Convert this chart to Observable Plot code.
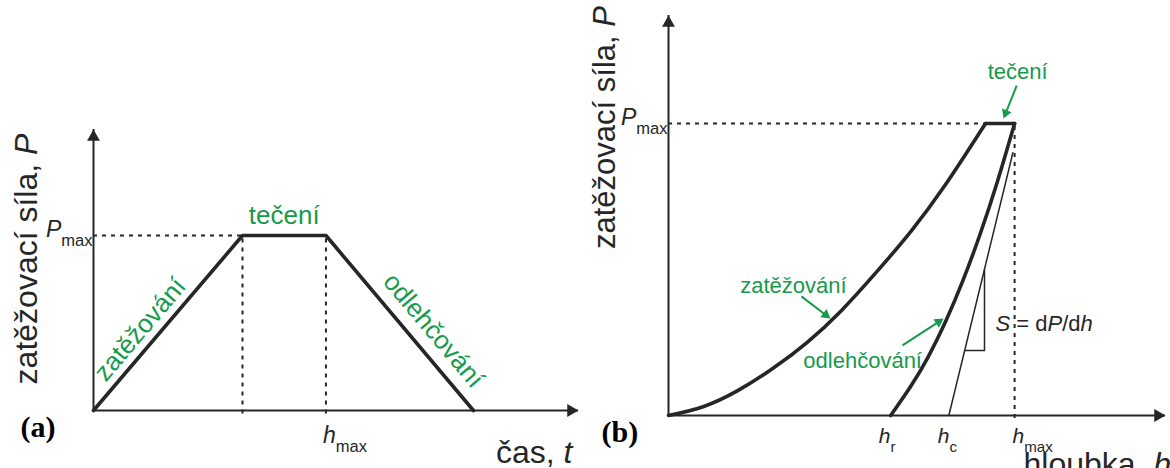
<!DOCTYPE html>
<html>
<head>
<meta charset="utf-8">
<script src="https://cdn.jsdelivr.net/npm/d3@7"></script>
<script src="https://cdn.jsdelivr.net/npm/@observablehq/plot@0.6"></script>
<style>
  html, body { margin: 0; padding: 0; background: #fff; }
  #fig { position: relative; width: 1170px; height: 468px; overflow: hidden; }
  #fig svg { position: absolute; top: 0; overflow: visible; }
</style>
</head>
<body>
<div id="fig"></div>
<script>
// ---------- (a) indentation force against time ----------
const timeA  = [0, 10, 15.6, 25.5];   // start, end of loading, end of hold, end of unloading
const forceA = [0, 1, 1, 0];          // force relative to Pmax
const phaseNames = ["zatěžování", "tečení", "odlehčování"];
const axisEndA = { t: 32.55, P: 1.606 };

// ---------- (b) indentation force against depth ----------
const loadDepth   = [0, 0.1, 0.2, 0.3, 0.4, 0.5, 0.6, 0.7, 0.8, 0.916];
const loadForce   = [0, 0.03, 0.085, 0.16, 0.25, 0.36, 0.49, 0.63, 0.79, 1];
const holdDepth   = [0.916, 1];
const holdForce   = [1, 1];
const unloadDepth = [0.642, 0.7, 0.75, 0.8, 0.85, 0.9, 0.95, 1];
const unloadForce = [0, 0.1, 0.2, 0.32, 0.46, 0.62, 0.8, 1];
const tangentDepth = [0.81, 0.995];
const tangentForce = [0, 0.9];
const slopeDepth  = [0.856, 0.913, 0.913];
const slopeForce  = [0.223, 0.223, 0.5];
const depthTicks  = [0.642, 0.81, 1];
const depthLabels = ["*h*_{r}", "*h*_{c}", "*h*_{max}"];
const axisEndB = { h: 1.436, P: 1.37 };

const ink = "#262626";
const green = "#169a4c";
const sans = "'Liberation Sans', Arial, sans-serif";
const serif = "'Liberation Serif', 'Times New Roman', serif";

// *x* -> italic, _{x} -> subscript
function richText(svg) {
  d3.select(svg).selectAll("text").each(function () {
    const s = this.textContent;
    if (!/[*_]/.test(s)) return;
    const sel = d3.select(this);
    sel.text(null);
    for (const m of s.matchAll(/\*([^*]+)\*|_\{([^}]+)\}|([^*_]+)/g)) {
      if (m[1]) sel.append("tspan").attr("font-style", "italic").text(m[1]);
      else if (m[2]) sel.append("tspan").attr("font-size", "72%").attr("dy", "0.55em").text(m[2]);
      else sel.append("tspan").text(m[3]);
    }
  });
  return svg;
}

// axis line with a filled arrowhead
function axes(xEnd, yEnd, head = 4.8) {
  const tip = head * 1.56;
  return [
    Plot.ruleY([0], { x1: 0, x2: xEnd, stroke: ink, strokeWidth: 2 }),
    Plot.ruleX([0], { y1: 0, y2: yEnd, stroke: ink, strokeWidth: 2 }),
    Plot.dot([0], { x: () => xEnd, y: () => 0, symbol: "triangle", r: head, rotate: 90, dx: -tip, fill: ink, stroke: "none" }),
    Plot.dot([0], { x: () => 0, y: () => yEnd, symbol: "triangle", r: head, rotate: 0, dy: tip, fill: ink, stroke: "none" })
  ];
}

// green pointer: shaft plus filled triangular head at the target
function pointer(from, to, sx, sy, head = 3.8) {
  const x0 = sx.apply(from[0]), y0 = sy.apply(from[1]);
  const x1 = sx.apply(to[0]), y1 = sy.apply(to[1]);
  const len = Math.hypot(x1 - x0, y1 - y0);
  const ux = (x1 - x0) / len, uy = (y1 - y0) / len;
  const back = head * 1.56;
  const cx = x1 - ux * back, cy = y1 - uy * back;
  const rot = Math.atan2(ux, -uy) * 180 / Math.PI;
  return [
    Plot.link([0], { x1: () => from[0], y1: () => from[1], x2: () => sx.invert(cx), y2: () => sy.invert(cy), stroke: green, strokeWidth: 2 }),
    Plot.dot([0], { x: () => sx.invert(cx), y: () => sy.invert(cy), symbol: "triangle", r: head, rotate: rot, fill: green, stroke: "none" })
  ];
}

// ---------- panel (a) ----------
const mA = { left: 93, right: 22, top: 129, bottom: 58, width: 600 };
const sxA = Plot.scale({ x: { domain: [0, axisEndA.t], range: [mA.left, mA.width - mA.right] } });
const syA = Plot.scale({ y: { domain: [0, axisEndA.P], range: [468 - mA.bottom, mA.top] } });

// label placed along segment i of the trapezoid, lifted off the line
function phaseLabel(i, frac, lift, size) {
  const t = timeA[i] + frac * (timeA[i + 1] - timeA[i]);
  const p = forceA[i] + frac * (forceA[i + 1] - forceA[i]);
  const ax = sxA.apply(timeA[i]), ay = syA.apply(forceA[i]);
  const bx = sxA.apply(timeA[i + 1]), by = syA.apply(forceA[i + 1]);
  const a = Math.atan2(by - ay, bx - ax);
  const nx = Math.sin(a), ny = -Math.cos(a);
  return Plot.text([phaseNames[i]], {
    x: () => t, y: () => p, text: d => d, rotate: a * 180 / Math.PI,
    textAnchor: "middle", lineAnchor: "middle",
    dx: nx * lift, dy: ny * lift, fill: green, fontSize: size, fontFamily: sans
  });
}

const mid = { textAnchor: "middle", lineAnchor: "middle" };

const plotA = Plot.plot({
  width: mA.width, height: 468,
  marginLeft: mA.left, marginRight: mA.right, marginTop: mA.top, marginBottom: mA.bottom,
  x: { domain: [0, axisEndA.t], axis: null },
  y: { domain: [0, axisEndA.P], axis: null },
  style: { fontFamily: sans, background: "transparent", overflow: "visible" },
  marks: [
    Plot.ruleY([1], { x1: 0, x2: timeA[1], stroke: ink, strokeWidth: 2, strokeDasharray: "4,5" }),
    Plot.ruleX([timeA[1], timeA[2]], { y1: -0.02, y2: 1, stroke: ink, strokeWidth: 2, strokeDasharray: "4,5" }),
    ...axes(axisEndA.t, axisEndA.P),
    Plot.line(timeA, { x: timeA, y: forceA, stroke: ink, strokeWidth: 3.6, strokeLinejoin: "miter" }),
    phaseLabel(0, 0.40, 17, 26),
    phaseLabel(1, 0.5, 20, 26),
    phaseLabel(2, 0.62, 21, 26),
    Plot.text(["*P*_{max}"], { x: () => 0, y: () => 1, text: d => d, textAnchor: "end", lineAnchor: "middle", dx: -1, dy: -6, fontSize: 23, fill: ink }),
    Plot.text(["*h*_{max}"], { x: () => timeA[2], y: () => 0, text: d => d, textAnchor: "start", lineAnchor: "middle", dx: -3, dy: 25, fontSize: 23, fill: ink }),
    Plot.text(["zatěžovací síla, *P*"], { frameAnchor: "left", text: d => d, ...mid, rotate: -90, dx: -67, dy: -11, fontSize: 32, fill: ink }),
    Plot.text(["čas, *t*"], { frameAnchor: "bottom-right", text: d => d, textAnchor: "end", lineAnchor: "middle", dx: -6, dy: 42, fontSize: 32, fill: ink }),
    Plot.text(["(a)"], { frameAnchor: "bottom-left", text: d => d, textAnchor: "start", lineAnchor: "middle", dx: -73, dy: 17, fontSize: 30, fontWeight: "bold", fontFamily: serif, fill: "#000" })
  ]
});

// ---------- panel (b) ----------
const mB = { left: 83, right: 5, top: 15, bottom: 53, width: 585 };
const sxB = Plot.scale({ x: { domain: [0, axisEndB.h], range: [mB.left, mB.width - mB.right] } });
const syB = Plot.scale({ y: { domain: [0, axisEndB.P], range: [468 - mB.bottom, mB.top] } });
const tickNudge = [-12, -11, -2];

const plotB = Plot.plot({
  width: mB.width, height: 468,
  marginLeft: mB.left, marginRight: mB.right, marginTop: mB.top, marginBottom: mB.bottom,
  x: { domain: [0, axisEndB.h], axis: null },
  y: { domain: [0, axisEndB.P], axis: null },
  style: { fontFamily: sans, background: "transparent", overflow: "visible" },
  marks: [
    Plot.ruleY([1], { x1: 0, x2: holdDepth[0], stroke: ink, strokeWidth: 2, strokeDasharray: "4,5" }),
    Plot.ruleX([holdDepth[1]], { y1: -0.01, y2: 1, stroke: ink, strokeWidth: 2, strokeDasharray: "4,5" }),
    ...axes(axisEndB.h, axisEndB.P),
    Plot.line(slopeDepth, { x: slopeDepth, y: slopeForce, stroke: ink, strokeWidth: 1.5 }),
    Plot.line(tangentDepth, { x: tangentDepth, y: tangentForce, stroke: ink, strokeWidth: 1.5 }),
    Plot.line(loadDepth, { x: loadDepth, y: loadForce, curve: "natural", stroke: ink, strokeWidth: 3.6, strokeLinecap: "round" }),
    Plot.line(holdDepth, { x: holdDepth, y: holdForce, stroke: ink, strokeWidth: 3.6, strokeLinecap: "round" }),
    Plot.line(unloadDepth, { x: unloadDepth, y: unloadForce, curve: "natural", stroke: ink, strokeWidth: 3.6, strokeLinecap: "round" }),
    Plot.text([phaseNames[1]], { x: () => 1.009, y: () => 1.178, text: d => d, ...mid, fill: green, fontSize: 22 }),
    ...pointer([1.006, 1.13], [0.968, 1.017], sxB, syB),
    Plot.text([phaseNames[0]], { x: () => 0.361, y: () => 0.442, text: d => d, ...mid, fill: green, fontSize: 22 }),
    ...pointer([0.384, 0.408], [0.468, 0.332], sxB, syB),
    Plot.text([phaseNames[2]], { x: () => 0.561, y: () => 0.188, text: d => d, ...mid, fill: green, fontSize: 22 }),
    ...pointer([0.676, 0.24], [0.795, 0.332], sxB, syB),
    Plot.text(["*S* = d*P*/d*h*"], { x: () => 0.945, y: () => 0.315, text: d => d, textAnchor: "start", lineAnchor: "middle", fontSize: 22, fill: ink }),
    Plot.text(["*P*_{max}"], { x: () => 0, y: () => 1, text: d => d, textAnchor: "end", lineAnchor: "middle", dx: -1, dy: -6, fontSize: 23, fill: ink }),
    ...depthLabels.map((lab, i) =>
      Plot.text([lab], { x: () => depthTicks[i], y: () => 0, text: d => d, textAnchor: "start", lineAnchor: "middle", dx: tickNudge[i], dy: 21, fontSize: 21, fill: ink })),
    Plot.text(["zatěžovací síla, *P*"], { frameAnchor: "left", text: d => d, ...mid, rotate: -90, dx: -63, dy: -88, fontSize: 31, fill: ink }),
    Plot.text(["hloubka, *h*"], { frameAnchor: "bottom-left", text: d => d, textAnchor: "start", lineAnchor: "middle", dx: 355, dy: 49, fontSize: 32, fill: ink }),
    Plot.text(["(b)"], { frameAnchor: "bottom-left", text: d => d, textAnchor: "start", lineAnchor: "middle", dx: -67, dy: 17, fontSize: 30, fontWeight: "bold", fontFamily: serif, fill: "#000" })
  ]
});

const fig = document.getElementById("fig");
richText(plotA); richText(plotB);
plotA.style.left = "0px";
plotB.style.left = "585px";
fig.appendChild(plotA);
fig.appendChild(plotB);
</script>
</body>
</html>
